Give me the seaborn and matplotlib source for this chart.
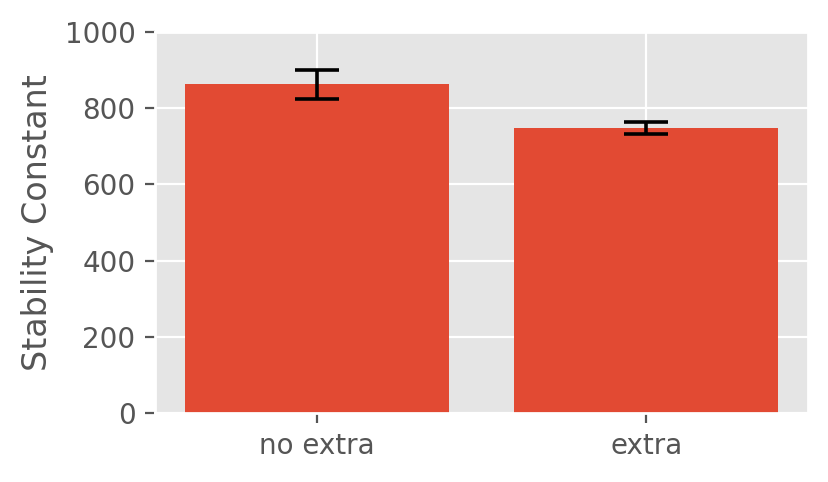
import matplotlib.pyplot as plt
import seaborn as sns
import pandas as pd

plt.style.use('ggplot')

categories = ['no extra', 'extra']
means = [863, 748]
errors = [38, 17]

df = pd.DataFrame({'group': categories, 'value': means})

fig = plt.figure(figsize=(4.145, 2.41), dpi=200)
ax = fig.add_axes([155 / 829, 1 - 413 / 482, (808 - 155) / 829, (413 - 32) / 482])

sns.barplot(data=df, x='group', y='value', color='#E24A33', saturation=1,
            width=0.8, errorbar=None, ax=ax, zorder=2)
ax.errorbar(range(len(categories)), means, yerr=errors, fmt='none',
            ecolor='black', elinewidth=1.3, capsize=7.8, capthick=1.3, zorder=3)

ax.set_ylim(0, 1000)
ax.set_xlabel('')
ax.set_ylabel('Stability Constant')
ax.grid(True, axis='both', color='white')
ax.set_axisbelow(True)

fig.savefig('out.png', dpi=200)
